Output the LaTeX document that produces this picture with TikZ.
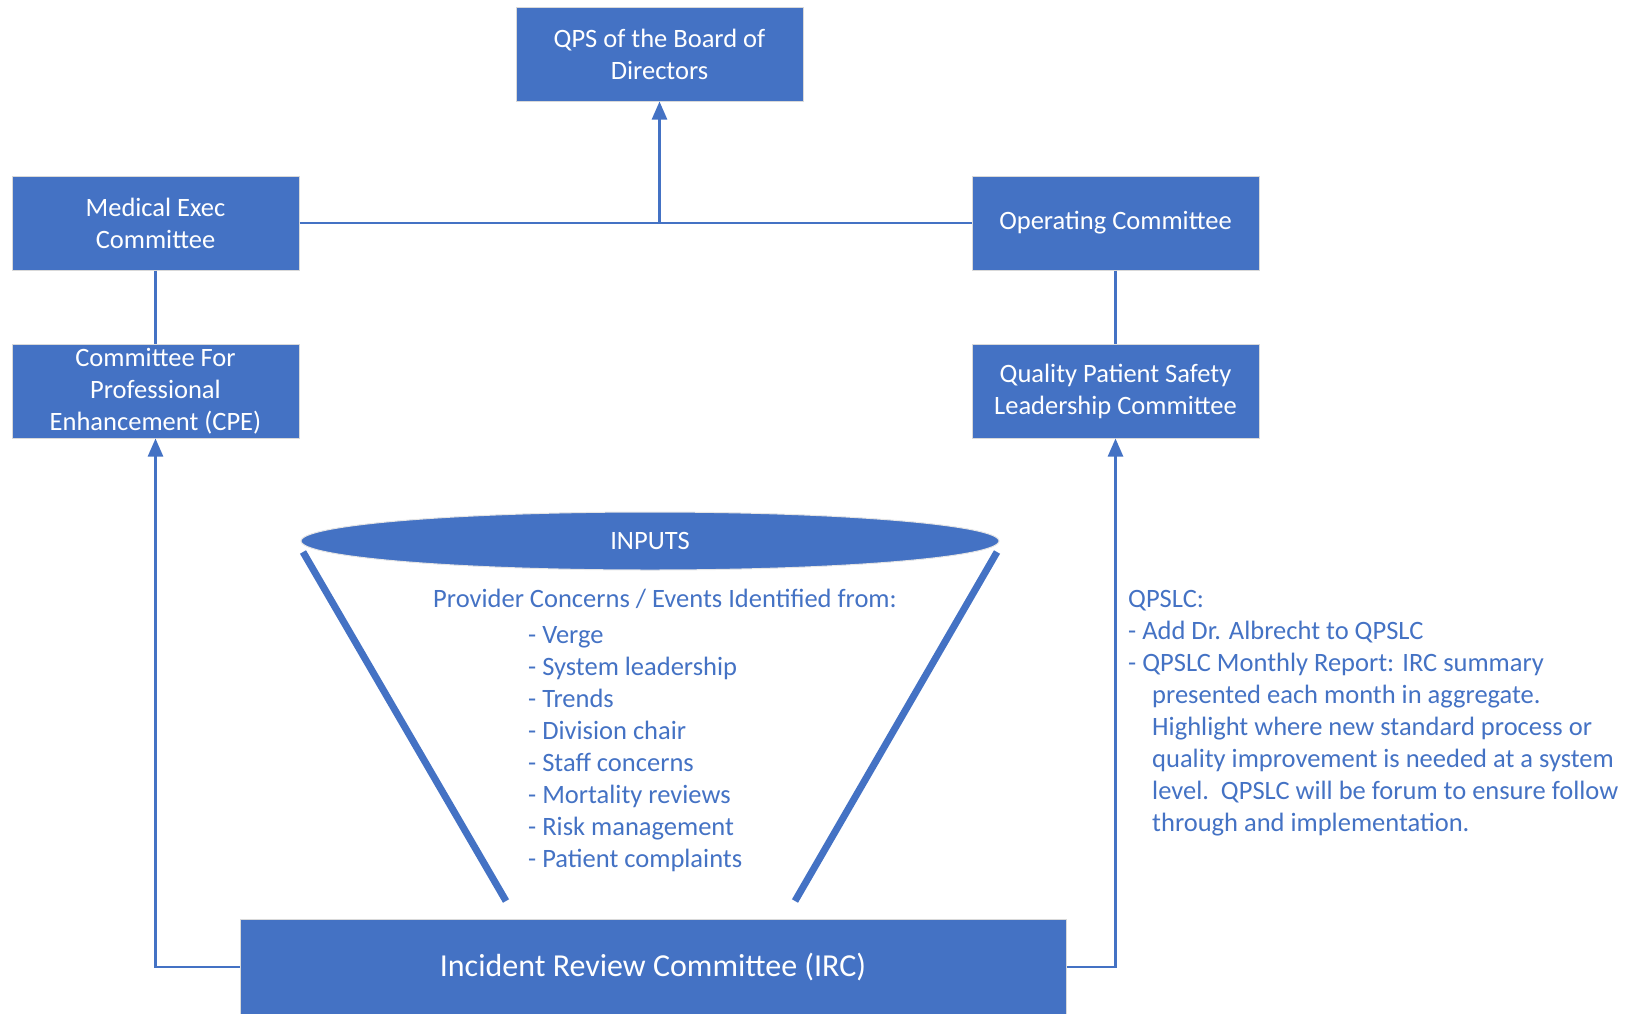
\documentclass[tikz,border=0pt]{standalone}
\usepackage{fontspec}
\setmainfont{Carlito}
\usetikzlibrary{arrows.meta,shapes.geometric}
\definecolor{officeblue}{HTML}{4472C4}
\tikzset{
  orgbox/.style={rectangle, fill=officeblue, draw=black!15, line width=1pt,
    minimum width=287pt, minimum height=94pt, inner sep=4pt, text=white,
    align=center, font=\fontsize{26.5}{32}\selectfont},
  link/.style={draw=officeblue, line width=2.5pt},
  uplink/.style={link, -{Triangle[width=15pt,length=18pt]}},
  funnelside/.style={draw=officeblue, line width=7pt},
  bluetext/.style={text=officeblue, inner sep=0pt, align=left,
    font=\fontsize{26.5}{32}\selectfont},
}
\begin{document}
\begin{tikzpicture}[x=1pt,y=-1pt]
\useasboundingbox (0,0) rectangle (1639,1013);

% committee boxes
\node[orgbox] (qps)   at (659.5,54)  {QPS of the Board of\\Directors};
\node[orgbox] (med)   at (155.5,223) {Medical Exec\\Committee};
\node[orgbox] (op)    at (1115.5,223) {\strut Operating Committee};
\node[orgbox] (cpe)   at (155.5,391) {Committee For\\Professional\\Enhancement (CPE)};
\node[orgbox] (qpslc) at (1115.5,391) {Quality Patient Safety\\Leadership Committee};
\node[orgbox, minimum width=826pt, minimum height=96pt,
      font=\fontsize{32}{38}\selectfont] (irc) at (653,967)
      {Incident Review Committee (IRC)};

% reporting lines
\coordinate (join) at (659.5,223);
\draw[link] (med.east) -- (op.west);
\draw[uplink] (join) -- (qps.south);
\draw[link] (med.south) -- (cpe.north);
\draw[link] (op.south) -- (qpslc.north);
\draw[uplink] (irc.west) -| (cpe.south);
\draw[uplink] (irc.east) -| (qpslc.south);

% inputs funnel
\coordinate (fl1) at (303,552);
\coordinate (fl2) at (506,901);
\coordinate (fr1) at (997,552);
\coordinate (fr2) at (795,901);
\draw[funnelside] (fl1) -- (fl2);
\draw[funnelside] (fr1) -- (fr2);
\node[ellipse, fill=officeblue, draw=black!10, line width=1pt,
      minimum width=698pt, minimum height=58pt, inner sep=0pt,
      text=white, font=\fontsize{26.5}{30}\selectfont] (inputs) at (650,541) {INPUTS};

\node[bluetext, anchor=base] (provider) at (665,607)
  {Provider Concerns / Events Identified from:};
% multi-line nodes: the base anchor sits on the last line
\node[bluetext, anchor=base west] (sources) at (528,867)
  {- Verge\\- System leadership\\- Trends\\- Division chair\\- Staff concerns\\%
   - Mortality reviews\\- Risk management\\- Patient complaints};

% QPSLC notes
\node[bluetext, anchor=base west] (notes) at (1128,831)
  {QPSLC:\\- Add Dr. Albrecht to QPSLC\\- QPSLC Monthly Report: IRC summary\\%
   \hspace*{24pt}presented each month in aggregate.\\%
   \hspace*{24pt}Highlight where new standard process or\\%
   \hspace*{24pt}quality improvement is needed at a system\\%
   \hspace*{24pt}level.\ \ QPSLC will be forum to ensure follow\\%
   \hspace*{24pt}through and implementation.};
\end{tikzpicture}
\end{document}
